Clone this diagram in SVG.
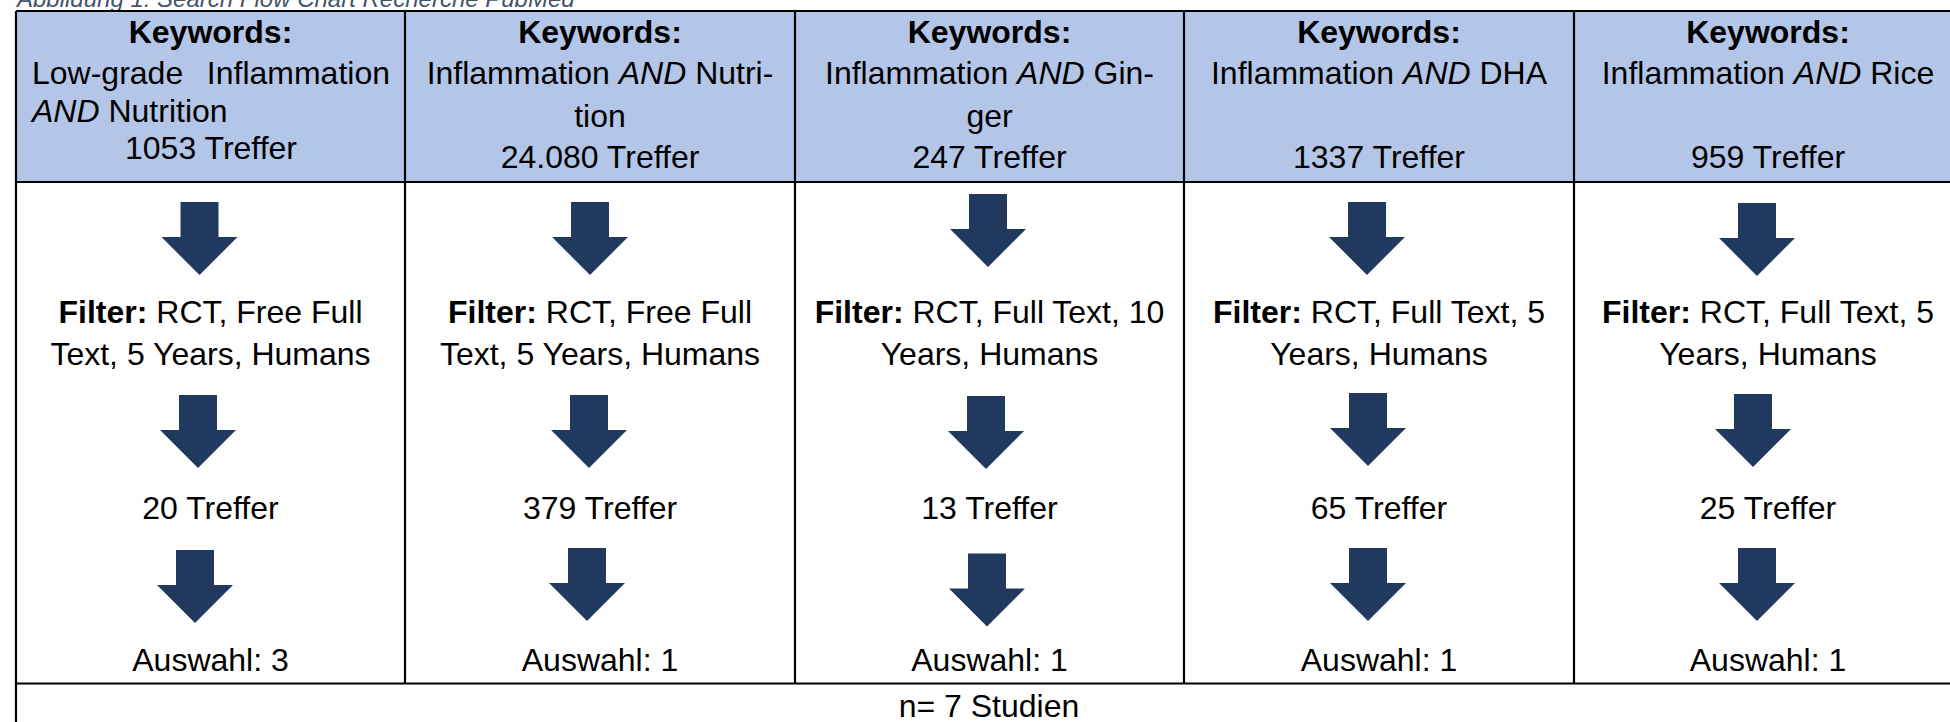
<svg xmlns="http://www.w3.org/2000/svg" width="1950" height="722" viewBox="0 0 1950 722">
<style>
text{font-family:"Liberation Sans",Arial,sans-serif;font-size:32px;fill:#000}
.c{text-anchor:middle}
.b{font-weight:bold}
.i{font-style:italic}
.cap{font-size:24px;font-style:italic;fill:#44546A}
.ln{stroke:#000;stroke-width:2.2;fill:none}
.arr{fill:#21385F}
</style>
<defs>
<path id="arrow" d="M-19,0 H19 V35 H38 L0,73 L-38,35 H-19 Z"/>
</defs>
<text class="cap" x="17" y="7">Abbildung 1: Search Flow Chart Recherche PubMed</text>
<rect x="16" y="11" width="1940" height="171" fill="#B4C6E7"/>
<g id="table-lines">
<path class="ln" d="M16,11 H1950 M16,182 H1950 M16,683.5 H1950 M16,11 V722 M405,11 V683.5 M795,11 V683.5 M1184,11 V683.5 M1574,11 V683.5"/>
</g>
<g id="header1">
<text class="c b" x="210.5" y="43">Keywords:</text>
<text x="32" y="84">Low-grade</text>
<text x="390" y="84" text-anchor="end">Inflammation</text>
<text x="32" y="121.5"><tspan class="i">AND</tspan> Nutrition</text>
<text class="c" x="211" y="158.5">1053 Treffer</text>
</g>
<g id="header2">
<text class="c b" x="600" y="43">Keywords:</text>
<text class="c" x="600" y="84">Inflammation <tspan class="i">AND</tspan> Nutri-</text>
<text class="c" x="600" y="126.5">tion</text>
<text class="c" x="600" y="168">24.080 Treffer</text>
</g>
<g id="header3">
<text class="c b" x="989.5" y="43">Keywords:</text>
<text class="c" x="989.5" y="84">Inflammation <tspan class="i">AND</tspan> Gin-</text>
<text class="c" x="989.5" y="126.5">ger</text>
<text class="c" x="989.5" y="168">247 Treffer</text>
</g>
<g id="header4">
<text class="c b" x="1379" y="43">Keywords:</text>
<text class="c" x="1379" y="84">Inflammation <tspan class="i">AND</tspan> DHA</text>
<text class="c" x="1379" y="168">1337 Treffer</text>
</g>
<g id="header5">
<text class="c b" x="1768" y="43">Keywords:</text>
<text class="c" x="1768" y="84">Inflammation <tspan class="i">AND</tspan> Rice</text>
<text class="c" x="1768" y="168">959 Treffer</text>
</g>
<g id="filter1">
<text class="c" x="210.5" y="322.5"><tspan class="b">Filter:</tspan> RCT, Free Full</text>
<text class="c" x="210.5" y="365">Text, 5 Years, Humans</text>
</g>
<g id="filter2">
<text class="c" x="600" y="322.5"><tspan class="b">Filter:</tspan> RCT, Free Full</text>
<text class="c" x="600" y="365">Text, 5 Years, Humans</text>
</g>
<g id="filter3">
<text class="c" x="989.5" y="322.5"><tspan class="b">Filter:</tspan> RCT, Full Text, 10</text>
<text class="c" x="989.5" y="365">Years, Humans</text>
</g>
<g id="filter4">
<text class="c" x="1379" y="322.5"><tspan class="b">Filter:</tspan> RCT, Full Text, 5</text>
<text class="c" x="1379" y="365">Years, Humans</text>
</g>
<g id="filter5">
<text class="c" x="1768" y="322.5"><tspan class="b">Filter:</tspan> RCT, Full Text, 5</text>
<text class="c" x="1768" y="365">Years, Humans</text>
</g>
<g id="hits1"><text class="c" x="210.5" y="518.5">20 Treffer</text></g>
<g id="hits2"><text class="c" x="600" y="518.5">379 Treffer</text></g>
<g id="hits3"><text class="c" x="989.5" y="518.5">13 Treffer</text></g>
<g id="hits4"><text class="c" x="1379" y="518.5">65 Treffer</text></g>
<g id="hits5"><text class="c" x="1768" y="518.5">25 Treffer</text></g>
<g id="select1"><text class="c" x="210.5" y="671">Auswahl: 3</text></g>
<g id="select2"><text class="c" x="600" y="671">Auswahl: 1</text></g>
<g id="select3"><text class="c" x="989.5" y="671">Auswahl: 1</text></g>
<g id="select4"><text class="c" x="1379" y="671">Auswahl: 1</text></g>
<g id="select5"><text class="c" x="1768" y="671">Auswahl: 1</text></g>
<g id="total"><text class="c" x="989" y="717">n= 7 Studien</text></g>
<g id="connectors" class="arr">
<use href="#arrow" x="199.5" y="202"/>
<use href="#arrow" x="198" y="395"/>
<use href="#arrow" x="195" y="550"/>
<use href="#arrow" x="590" y="202"/>
<use href="#arrow" x="589" y="395"/>
<use href="#arrow" x="587" y="548"/>
<use href="#arrow" x="988" y="194"/>
<use href="#arrow" x="986" y="396"/>
<use href="#arrow" x="987" y="553.5"/>
<use href="#arrow" x="1367" y="202"/>
<use href="#arrow" x="1368" y="393"/>
<use href="#arrow" x="1368" y="548"/>
<use href="#arrow" x="1757" y="203"/>
<use href="#arrow" x="1753" y="394"/>
<use href="#arrow" x="1757" y="548"/>
</g>
</svg>
